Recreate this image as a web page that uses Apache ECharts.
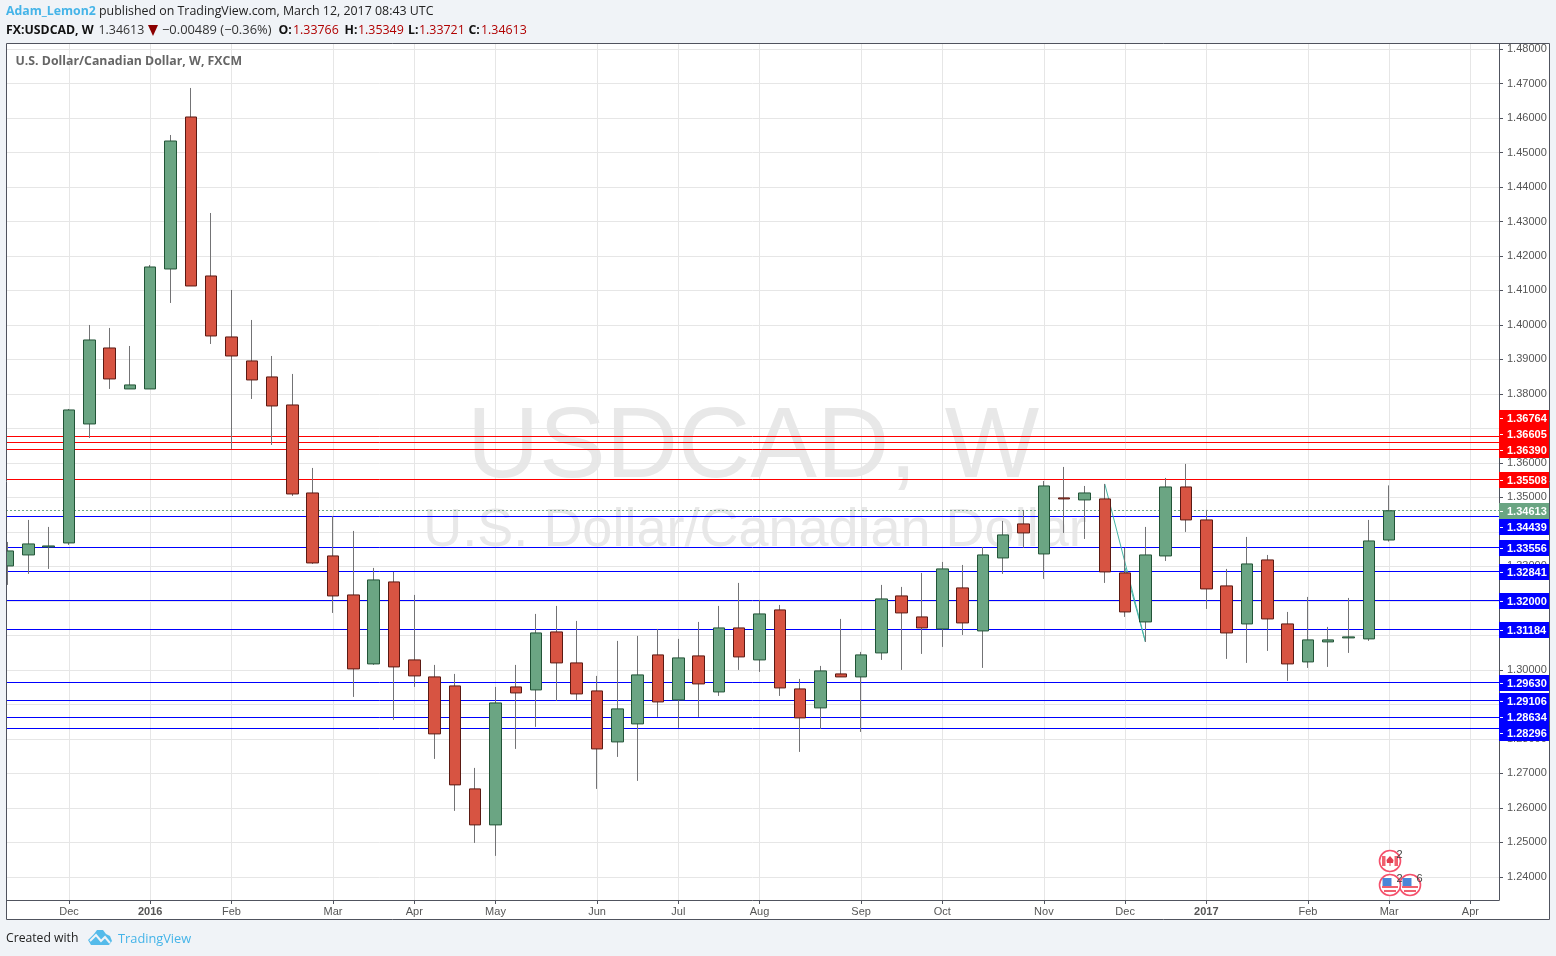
<!DOCTYPE html>
<html lang="en">
<head>
    <meta charset="UTF-8">
    <title>USDCAD, W</title>
    <script src="https://cdn.jsdelivr.net/npm/echarts@6/dist/echarts.min.js"></script>
    <style>
        html, body { margin: 0; padding: 0; background: #f0f3f7; }
        #chart { width: 1556px; height: 956px; }
    </style>
</head>
<body>
    <div id="chart"></div>
    <script>
        // weekly candles
        var opens = [1.33014,1.33333,1.33565,1.33681,1.37130,1.39333,1.38145,1.38145,1.41623,1.46029,1.41420,1.39652,1.38957,1.38493,1.37681,1.35130,1.33304,1.32174,1.30174,1.32551,1.30290,1.29797,1.29536,1.26551,1.25507,1.29507,1.29420,1.31101,1.30203,1.29391,1.27913,1.28435,1.30435,1.29130,1.30406,1.29362,1.31217,1.30290,1.31739,1.29449,1.28899,1.29884,1.29797,1.30493,1.32145,1.31536,1.31188,1.32377,1.31130,1.33246,1.34232,1.33362,1.34986,1.34928,1.34957,1.32812,1.31391,1.33304,1.35304,1.34348,1.32435,1.31333,1.33188,1.31333,1.30232,1.30812,1.30928,1.30899,1.33766];
        var highs = [1.33710,1.34348,1.34145,1.37565,1.40000,1.39913,1.39391,1.41739,1.45507,1.46870,1.43246,1.41014,1.40145,1.39101,1.38580,1.35855,1.34464,1.34029,1.32957,1.32841,1.32174,1.30145,1.29884,1.27159,1.29507,1.30145,1.31623,1.31855,1.31420,1.29826,1.30841,1.30986,1.31188,1.30899,1.31391,1.31855,1.32522,1.32029,1.31884,1.29739,1.30116,1.31478,1.30522,1.32464,1.32406,1.32812,1.33130,1.33043,1.33565,1.34319,1.34638,1.35478,1.35884,1.35333,1.35391,1.33536,1.34145,1.35565,1.35971,1.34638,1.32928,1.33855,1.33333,1.31681,1.32116,1.31246,1.32087,1.34348,1.35349];
        var lows = [1.32464,1.32783,1.32928,1.33623,1.36725,1.38145,1.38145,1.38145,1.40638,1.41130,1.39449,1.36406,1.37855,1.36522,1.35043,1.33072,1.31652,1.29217,1.30145,1.28551,1.29507,1.27420,1.25913,1.24986,1.24609,1.27710,1.28348,1.29101,1.29130,1.26551,1.27478,1.26783,1.28638,1.28319,1.28638,1.29246,1.30000,1.29942,1.29246,1.27623,1.28290,1.29797,1.28203,1.30290,1.30000,1.30464,1.30667,1.31014,1.30058,1.32783,1.33536,1.32638,1.33971,1.33797,1.32522,1.31536,1.30812,1.33159,1.34000,1.31768,1.30319,1.30203,1.30551,1.29681,1.30058,1.30087,1.30493,1.30841,1.33721];
        var closes = [1.33449,1.33652,1.33594,1.37536,1.39565,1.38435,1.38261,1.41681,1.45333,1.41130,1.39681,1.39101,1.38406,1.37652,1.35101,1.33101,1.32145,1.30029,1.32609,1.30087,1.29826,1.28145,1.26667,1.25507,1.29043,1.29333,1.31072,1.30203,1.29304,1.27710,1.28870,1.29855,1.29072,1.30348,1.29594,1.31217,1.30377,1.31623,1.29478,1.28609,1.29971,1.29797,1.30435,1.32058,1.31652,1.31217,1.32928,1.31362,1.33333,1.33913,1.33971,1.35333,1.34957,1.35130,1.32841,1.31681,1.33333,1.35304,1.34348,1.32348,1.31072,1.33072,1.31478,1.30174,1.30870,1.30870,1.30957,1.33739,1.34613];

        var xTickIndex = [3,7,11,16,20,24,29,33,37,42,46,51,55,59,64,68,72];
        var xTickLabels = ['Dec','2016','Feb','Mar','Apr','May','Jun','Jul','Aug','Sep','Oct','Nov','Dec','2017','Feb','Mar','Apr'];
        var yTicks = [1.24,1.25,1.26,1.27,1.28,1.29,1.30,1.31,1.32,1.33,1.34,1.35,1.36,1.37,1.38,1.39,1.40,1.41,1.42,1.43,1.44,1.45,1.46,1.47,1.48];

        // support / resistance lines and the last price
        var levels = [1.36764,1.36605,1.36390,1.35508,1.34439,1.33556,1.32841,1.32000,1.31184,1.29630,1.29106,1.28634,1.28296];
        var levelColors = ['#ff0000','#ff0000','#ff0000','#ff0000','#0000ff','#0000ff','#0000ff','#0000ff','#0000ff','#0000ff','#0000ff','#0000ff','#0000ff'];
        var lastPrice = 1.34613;
        var trendA = [[54,1.35391],[56,1.30812]];
        var trendB = [[55,1.32957],[56,1.30812]];

        var GREEN = '#6ba583', GREEN_B = '#225437', RED = '#d75442', RED_B = '#5b1a13', WICK = '#737375';
        var FONT = '"Liberation Sans", Arial, sans-serif', HEAD = '"Open Sans", sans-serif';

        var wickData = opens.map(function(o, i) { return [i, o, closes[i], lows[i], highs[i]]; });
        var bodyData = opens.map(function(o, i) {
            return [i, o, closes[i], Math.min(o, closes[i]), Math.max(o, closes[i])];
        });
        var levelData = levels.concat([lastPrice]).map(function(v) { return [0, v]; });

        // price boxes sit on the axis, pushed apart so they do not cover each other
        var boxes = [
            ['1.36764', 418, '#ff0000'], ['1.36605', 434, '#ff0000'], ['1.36390', 450, '#ff0000'],
            ['1.35508', 480, '#ff0000'], ['1.34613', 511, '#6ba583'], ['1.34439', 527, '#0000ff'],
            ['1.33556', 548, '#0000ff'], ['1.32841', 572, '#0000ff'], ['1.32000', 601, '#0000ff'],
            ['1.31184', 630, '#0000ff'], ['1.29630', 683, '#0000ff'], ['1.29106', 701, '#0000ff'],
            ['1.28634', 717, '#0000ff'], ['1.28296', 733, '#0000ff']
        ];

        function txt(x, y, s, color, font, z, align) {
            return { type: 'text', z: z || 50, silent: true, style: { x: x, y: y, text: s, fill: color, font: font, textVerticalAlign: 'middle', textAlign: align || 'left' } };
        }

        var g = [];
        // white panel behind the plot and axes
        g.push({ type: 'rect', z: -5, silent: true, shape: { x: 6.5, y: 43.5, width: 1543, height: 876 }, style: { fill: '#fff' } });
        // first candle is cut by the left edge: mask what hangs over, then the frame on top
        g.push({ type: 'rect', z: 30, silent: true, shape: { x: 0, y: 43, width: 6, height: 877 }, style: { fill: '#f0f3f7' } });
        g.push({ type: 'rect', z: 31, silent: true, shape: { x: 6.5, y: 43.5, width: 1543, height: 876 }, style: { fill: null, stroke: '#50535e', lineWidth: 1 } });

        // watermark
        g.push({ type: 'text', z: -1, silent: true, style: { x: 753, y: 449, text: 'USDCAD, W', fill: '#e8e8e8', font: '100px ' + FONT, textAlign: 'center', textVerticalAlign: 'middle' } });
        g.push({ type: 'text', z: -1, silent: true, style: { x: 755, y: 531, text: 'U.S. Dollar/Canadian Dollar', fill: '#e8e8e8', font: '54px ' + FONT, textAlign: 'center', textVerticalAlign: 'middle' } });

        // header
        var B = 'bold 12.3px ' + HEAD, N = '12.4px ' + HEAD, VAL = '#b00000';
        g.push(txt(6, 11, 'Adam_Lemon2', '#45b4e8', B));
        g.push(txt(99, 11, 'published on TradingView.com, March 12, 2017 08:43 UTC', '#222', N));
        g.push(txt(6, 30, 'FX:USDCAD, W', '#111', B));
        g.push(txt(98.5, 30, '1.34613', '#333', N));
        g.push({ type: 'polygon', z: 50, silent: true, shape: { points: [[148, 25], [158, 25], [153, 36]] }, style: { fill: '#8b0000' } });
        g.push(txt(162, 30, '\u22120.00489 (\u22120.36%)', '#333', '12.9px ' + HEAD));
        [['O:', 278.5, '1.33766', 293], ['H:', 344.5, '1.35349', 358], ['L:', 408, '1.33721', 419], ['C:', 468.5, '1.34613', 481]].forEach(function(p) {
            g.push(txt(p[1], 30, p[0], '#111', B));
            g.push(txt(p[3], 30, p[2], VAL, N));
        });
        g.push(txt(15.5, 61, 'U.S. Dollar/Canadian Dollar, W, FXCM', '#666', B));

        // footer
        g.push(txt(6, 939, 'Created with', '#222', '12.2px ' + HEAD));
        g.push({ type: 'polygon', z: 50, silent: true, shape: { points: [[88, 940], [94, 934], [97, 930], [103, 930], [106, 934], [110, 936], [112, 941], [109, 945], [91, 945]] }, style: { fill: '#55bbea' } });
        g.push({ type: 'polyline', z: 51, silent: true, shape: { points: [[90, 941], [96, 935], [101, 941], [105, 937], [110, 943]] }, style: { stroke: '#f0f3f7', lineWidth: 2, fill: null } });
        g.push(txt(118, 939, 'TradingView', '#45b4e8', '12.8px ' + HEAD));

        // price boxes over the axis labels
        boxes.forEach(function(b) {
            g.push({ type: 'rect', z: 60, silent: true, shape: { x: 1499, y: b[1] - 8, width: 50, height: 16 }, style: { fill: b[2] } });
            g.push({ type: 'line', z: 61, silent: true, shape: { x1: 1500, y1: b[1] + 0.5, x2: 1503, y2: b[1] + 0.5 }, style: { stroke: '#fff', lineWidth: 1 } });
            g.push(txt(1507, b[1] + 0.5, b[0], '#fff', 'bold 11px ' + FONT, 62));
        });

        // event markers near the bottom
        function marker(cx, cy, kind, count) {
            g.push({ type: 'circle', z: 20, silent: true, shape: { cx: cx, cy: cy, r: 10.5 }, style: { fill: '#fff', stroke: '#f5506c', lineWidth: 1.6 } });
            if (kind === 'ca') {
                g.push({ type: 'rect', z: 21, silent: true, shape: { x: cx - 8, y: cy - 5, width: 3.5, height: 10 }, style: { fill: '#f0606f' } });
                g.push({ type: 'rect', z: 21, silent: true, shape: { x: cx + 4.5, y: cy - 5, width: 3.5, height: 10 }, style: { fill: '#f0606f' } });
                g.push({ type: 'polygon', z: 21, silent: true, shape: { points: [[cx, cy - 5], [cx + 3.5, cy - 1], [cx + 3, cy + 2], [cx - 3, cy + 2], [cx - 3.5, cy - 1]] }, style: { fill: '#e23d50' } });
                g.push({ type: 'rect', z: 21, silent: true, shape: { x: cx - 0.5, y: cy + 2, width: 1, height: 3 }, style: { fill: '#e23d50' } });
            } else {
                g.push({ type: 'rect', z: 21, silent: true, shape: { x: cx - 7.5, y: cy - 7, width: 9, height: 8 }, style: { fill: '#4a86d8' } });
                g.push({ type: 'rect', z: 21, silent: true, shape: { x: cx - 8, y: cy + 1, width: 16, height: 2 }, style: { fill: '#f0606f' } });
                g.push({ type: 'rect', z: 21, silent: true, shape: { x: cx - 6, y: cy + 5, width: 12, height: 2 }, style: { fill: '#f0606f' } });
            }
            g.push(txt(cx + 6.5, cy - 6.5, count, '#444', '11px ' + FONT, 22));
        }
        marker(1390, 861, 'ca', '2');
        marker(1410, 885, 'us', '6');
        marker(1390, 885, 'us', '2');

        var chart = echarts.init(document.getElementById('chart'));
        chart.setOption({
            animation: false,
            backgroundColor: '#f0f3f7',
            grid: { left: 6, right: 57, top: 44, bottom: 56 },
            xAxis: {
                type: 'value',
                min: -0.102,
                max: 73.41,
                axisLine: { onZero: false, lineStyle: { color: '#50535e' } },
                axisTick: { length: 4, customValues: xTickIndex, lineStyle: { color: '#50535e' } },
                splitLine: { show: true, lineStyle: { color: '#e6e6e6', width: 1 } },
                axisLabel: {
                    customValues: xTickIndex,
                    margin: 6,
                    color: '#555',
                    fontFamily: FONT,
                    fontSize: 11,
                    formatter: function(v) {
                        var s = xTickLabels[xTickIndex.indexOf(v)];
                        return /^\d/.test(s) ? '{y|' + s + '}' : s;
                    },
                    rich: { y: { fontWeight: 'bold', color: '#555', fontFamily: FONT, fontSize: 11 } }
                }
            },
            yAxis: {
                type: 'value',
                position: 'right',
                min: 1.2333,
                max: 1.48145,
                axisLine: { show: true, onZero: false, lineStyle: { color: '#50535e' } },
                axisTick: { show: true, length: 4, customValues: yTicks, lineStyle: { color: '#50535e' } },
                splitLine: { show: true, lineStyle: { color: '#e6e6e6', width: 1 } },
                axisLabel: {
                    customValues: yTicks,
                    margin: 8,
                    color: '#555',
                    fontFamily: FONT,
                    fontSize: 11,
                    formatter: function(v) { return v.toFixed(5); }
                }
            },
            graphic: { elements: g },
            series: [
                {
                    // horizontal levels, snapped to whole pixels so they stay crisp
                    type: 'custom',
                    data: levelData,
                    z: 1,
                    silent: true,
                    renderItem: function(params, api) {
                        var y = Math.floor(api.coord([0, api.value(1)])[1]) + 0.5;
                        var i = params.dataIndex, last = i === levels.length;
                        return {
                            type: 'line',
                            shape: { x1: params.coordSys.x, y1: y, x2: params.coordSys.x + params.coordSys.width, y2: y },
                            style: { stroke: last ? GREEN : levelColors[i], lineWidth: 1, lineDash: last ? [2, 2] : null }
                        };
                    }
                },
                { type: 'line', data: trendA, z: 2, silent: true, symbol: 'none', lineStyle: { color: '#45b5a5', width: 1 } },
                { type: 'line', data: trendB, z: 2, silent: true, symbol: 'none', lineStyle: { color: '#45b5a5', width: 1 } },
                {
                    type: 'candlestick',
                    data: wickData,
                    z: 3,
                    barWidth: 1,
                    silent: true,
                    itemStyle: { color: WICK, color0: WICK, borderColor: WICK, borderColor0: WICK, borderWidth: 1 }
                },
                {
                    type: 'candlestick',
                    data: bodyData,
                    z: 4,
                    barWidth: 12,
                    silent: true,
                    itemStyle: { color: GREEN, color0: RED, borderColor: GREEN_B, borderColor0: RED_B, borderWidth: 1 }
                }
            ]
        });
    </script>
</body>
</html>
